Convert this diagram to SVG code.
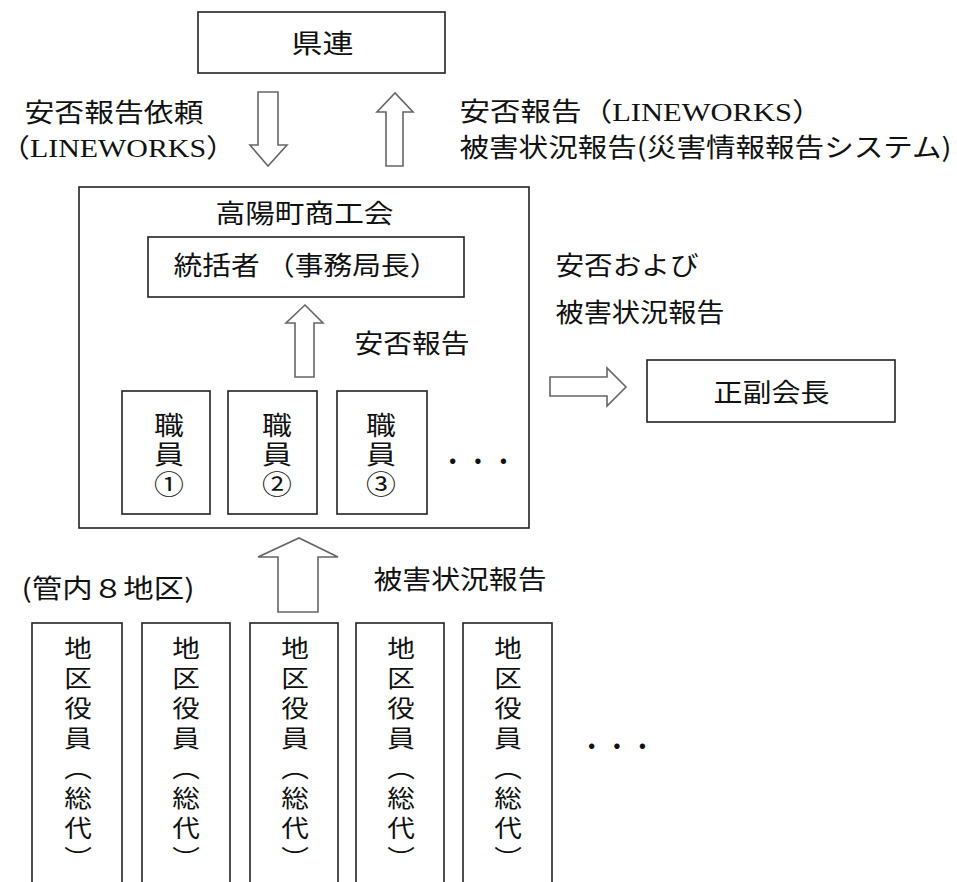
<svg xmlns="http://www.w3.org/2000/svg" width="957" height="882" viewBox="0 0 957 882">
<style>
.box{fill:#fff;stroke:#222;stroke-width:1.6}
.arr{fill:#fff;stroke:#666;stroke-width:1.6;stroke-linejoin:miter}
text{font-size:26px;fill:#111}
.j{font-family:"Noto Sans CJK JP",sans-serif}
.m{font-family:"Liberation Serif","Noto Sans CJK JP",serif}
.v{font-size:24px;font-family:"Noto Sans CJK JP",sans-serif;writing-mode:vertical-rl;letter-spacing:6px}
.s{font-size:26px;font-family:"Noto Sans CJK JP",sans-serif;writing-mode:vertical-rl;letter-spacing:3.5px}
</style>
<rect width="957" height="882" fill="#fff"/>

<g id="kenren">
  <rect class="box" x="198" y="12" width="247" height="61"/>
  <text class="j" x="291.5" y="53" textLength="62" lengthAdjust="spacingAndGlyphs">県連</text>
</g>

<g id="shokokai">
  <rect class="box" x="79" y="187" width="450" height="341"/>
  <text class="j" x="215.5" y="223" textLength="178" lengthAdjust="spacingAndGlyphs">高陽町商工会</text>
</g>

<g id="tokatsu">
  <rect class="box" x="148" y="237" width="316" height="60"/>
  <text class="j" x="173.5" y="275" textLength="265" lengthAdjust="spacingAndGlyphs">統括者 （事務局長）</text>
</g>

<g id="staff1">
  <rect class="box" x="122" y="391" width="88" height="123"/>
  <text class="s" transform="translate(169,0) scale(1.15,1)" x="0" y="412">職員①</text>
</g>
<g id="staff2">
  <rect class="box" x="228" y="391" width="89" height="123"/>
  <text class="s" transform="translate(277,0) scale(1.15,1)" x="0" y="412">職員②</text>
</g>
<g id="staff3">
  <rect class="box" x="337" y="391" width="90" height="123"/>
  <text class="s" transform="translate(381,0) scale(1.15,1)" x="0" y="412">職員③</text>
</g>

<g id="fukukaicho">
  <rect class="box" x="647" y="360" width="248" height="62"/>
  <text class="j" x="713.5" y="402" textLength="116" lengthAdjust="spacingAndGlyphs">正副会長</text>
</g>

<g id="chiku1">
  <rect class="box" x="32" y="623" width="90" height="270"/>
  <text class="v" transform="translate(78,0) scale(1.15,1)" x="0" y="636">地区役員（総代）</text>
</g>
<g id="chiku2">
  <rect class="box" x="142" y="623" width="88" height="270"/>
  <text class="v" transform="translate(186,0) scale(1.15,1)" x="0" y="636">地区役員（総代）</text>
</g>
<g id="chiku3">
  <rect class="box" x="250" y="623" width="88" height="270"/>
  <text class="v" transform="translate(295,0) scale(1.15,1)" x="0" y="636">地区役員（総代）</text>
</g>
<g id="chiku4">
  <rect class="box" x="356" y="623" width="88" height="270"/>
  <text class="v" transform="translate(401,0) scale(1.15,1)" x="0" y="636">地区役員（総代）</text>
</g>
<g id="chiku5">
  <rect class="box" x="463" y="623" width="89" height="270"/>
  <text class="v" transform="translate(508,0) scale(1.15,1)" x="0" y="636">地区役員（総代）</text>
</g>

<g id="connectors">
  <polygon class="arr" points="258,92 278,92 278,145 287,145 268,166 250,145 258,145"/>
  <polygon class="arr" points="386,166 403,166 403,112 413,112 395,93 377,112 386,112"/>
  <polygon class="arr" points="295,377 314,377 314,323 323,323 305,305 286,323 295,323"/>
  <polygon class="arr" points="278,612 318,612 318,557 338,557 299,538 258,557 278,557"/>
  <polygon class="arr" points="550,377 607,377 607,368 626,387 607,406 607,396 550,396"/>
</g>

<g id="labels">
  <text class="j" x="24.5" y="122" textLength="179" lengthAdjust="spacingAndGlyphs">安否報告依頼</text>
  <text class="m" x="0" y="157" textLength="236" lengthAdjust="spacingAndGlyphs">（LINEWORKS）</text>
  <text class="m" x="459.5" y="121" textLength="363" lengthAdjust="spacingAndGlyphs">安否報告（LINEWORKS）</text>
  <text class="j" x="459.5" y="157" textLength="492" lengthAdjust="spacingAndGlyphs">被害状況報告(災害情報報告システム)</text>
  <text class="j" x="354.5" y="353" textLength="115" lengthAdjust="spacingAndGlyphs">安否報告</text>
  <text class="j" x="555.5" y="275" textLength="143" lengthAdjust="spacingAndGlyphs">安否および</text>
  <text class="j" x="555.5" y="322" textLength="169" lengthAdjust="spacingAndGlyphs">被害状況報告</text>
  <text class="j" x="373.5" y="589" textLength="173" lengthAdjust="spacingAndGlyphs">被害状況報告</text>
  <text class="j" x="21.5" y="598" textLength="173" lengthAdjust="spacingAndGlyphs">(管内８地区)</text>
  <text class="j" x="440" y="471" textLength="76" lengthAdjust="spacingAndGlyphs">・・・</text>
  <text class="j" x="579" y="756" textLength="76" lengthAdjust="spacingAndGlyphs">・・・</text>
</g>
</svg>
